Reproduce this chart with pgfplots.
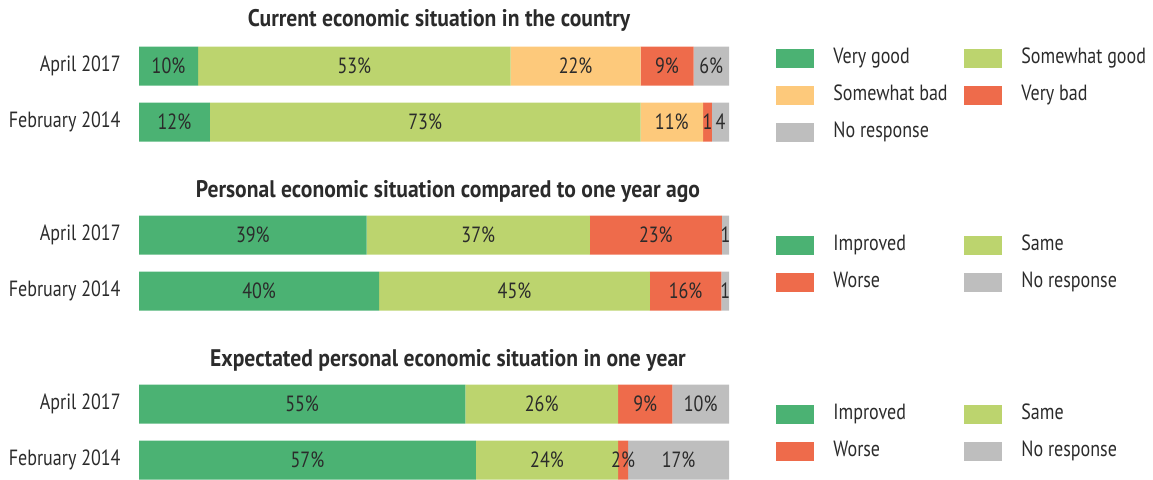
\documentclass[border=0pt]{standalone}
\usepackage{fontspec}
\setmainfont{PT Sans}[FakeStretch=0.82]
\newfontfamily\ttlfam{PT Sans}[FakeStretch=0.9]
\usepackage{pgfplots}
\pgfplotsset{compat=1.18}
\definecolor{cVG}{HTML}{4BB273}
\definecolor{cSG}{HTML}{BCD46E}
\definecolor{cSB}{HTML}{FDC97B}
\definecolor{cVB}{HTML}{EE6B4B}
\definecolor{cNR}{HTML}{BEBEBE}
\definecolor{txt}{HTML}{2B2B2B}
\newcommand{\lblfont}{\fontsize{11}{13}\selectfont}
\newcommand{\ttlfont}{\ttlfam\bfseries\fontsize{12}{14}\selectfont}
\pgfplotsset{
  mybar/.style={
    xbar stacked, scale only axis, width=295pt, height=56pt,
    xmin=0, xmax=100, ymin=-0.5, ymax=1.5,
    bar width=19.5pt, axis line style={draw=none}, tick style={draw=none},
    xtick=\empty, ytick={0,1}, yticklabels={February 2014, April 2017},
    yticklabel style={font=\lblfont, text=txt, inner sep=0pt, xshift=-9pt},
    point meta=explicit symbolic,
    nodes near coords,
    nodes near coords style={font=\lblfont, text=txt, anchor=center, inner sep=0pt},
    clip=false,
  },
}
\newcommand{\leg}[4]{%
  \fill[#3] ({#1*0.5pt},{(479-#2)*0.5pt-4.75pt}) rectangle ++(19pt,9.5pt);
  \node[anchor=mid west, inner sep=0pt, font=\lblfont, text=txt] at ({(#1+57)*0.5pt},{(479-#2)*0.5pt}) {#4};}
\begin{document}
\begin{tikzpicture}
\useasboundingbox (0,0) rectangle (576.5pt,239.5pt);
% Chart 1
\begin{axis}[mybar, at={(69.5pt,164.5pt)}, anchor=south west]
\addplot[fill=cVG, draw=none] coordinates {(10,1) [10\%] (12,0) [12\%]};
\addplot[fill=cSG, draw=none] coordinates {(53,1) [53\%] (73,0) [73\%]};
\addplot[fill=cSB, draw=none] coordinates {(22,1) [22\%] (10.6,0) [11\%]};
\addplot[fill=cVB, draw=none] coordinates {(9,1) [9\%] (1.5,0) [1]};
\addplot[fill=cNR, draw=none] coordinates {(6,1) [6\%] (2.9,0) [4]};
\end{axis}
% Chart 2
\begin{axis}[mybar, at={(69.5pt,80pt)}, anchor=south west]
\addplot[fill=cVG, draw=none] coordinates {(38.6,1) [39\%] (40.7,0) [40\%]};
\addplot[fill=cSG, draw=none] coordinates {(37.8,1) [37\%] (45.9,0) [45\%]};
\addplot[fill=cVB, draw=none] coordinates {(22.4,1) [23\%] (12.1,0) [16\%]};
\addplot[fill=cNR, draw=none] coordinates {(1.2,1) [1] (1.3,0) [1]};
\end{axis}
% Chart 3
\begin{axis}[mybar, at={(69.5pt,-4.5pt)}, anchor=south west]
\addplot[fill=cVG, draw=none] coordinates {(55.3,1) [55\%] (57.1,0) [57\%]};
\addplot[fill=cSG, draw=none] coordinates {(25.9,1) [26\%] (24.1,0) [24\%]};
\addplot[fill=cVB, draw=none] coordinates {(9.2,1) [9\%] (1.7,0) [2\%]};
\addplot[fill=cNR, draw=none] coordinates {(9.6,1) [10\%] (17.1,0) [17\%]};
\end{axis}
% Titles
\node[font=\ttlfont, text=txt] at (219.5pt,229.5pt) {Current economic situation in the country};
\node[font=\ttlfont, text=txt] at (224pt,143.5pt) {Personal economic situation compared to one year ago};
\node[font=\ttlfont, text=txt] at (224pt,59.5pt) {Expectated personal economic situation in one year};
% Legends
\leg{776}{58}{cVG}{Very good}
\leg{964}{58}{cSG}{Somewhat good}
\leg{776}{95}{cSB}{Somewhat bad}
\leg{964}{95}{cVB}{Very bad}
\leg{776}{132}{cNR}{No response}
\leg{776}{245}{cVG}{Improved}
\leg{964}{245}{cSG}{Same}
\leg{776}{282}{cVB}{Worse}
\leg{964}{282}{cNR}{No response}
\leg{776}{414}{cVG}{Improved}
\leg{964}{414}{cSG}{Same}
\leg{776}{451}{cVB}{Worse}
\leg{964}{451}{cNR}{No response}
\end{tikzpicture}
\end{document}
